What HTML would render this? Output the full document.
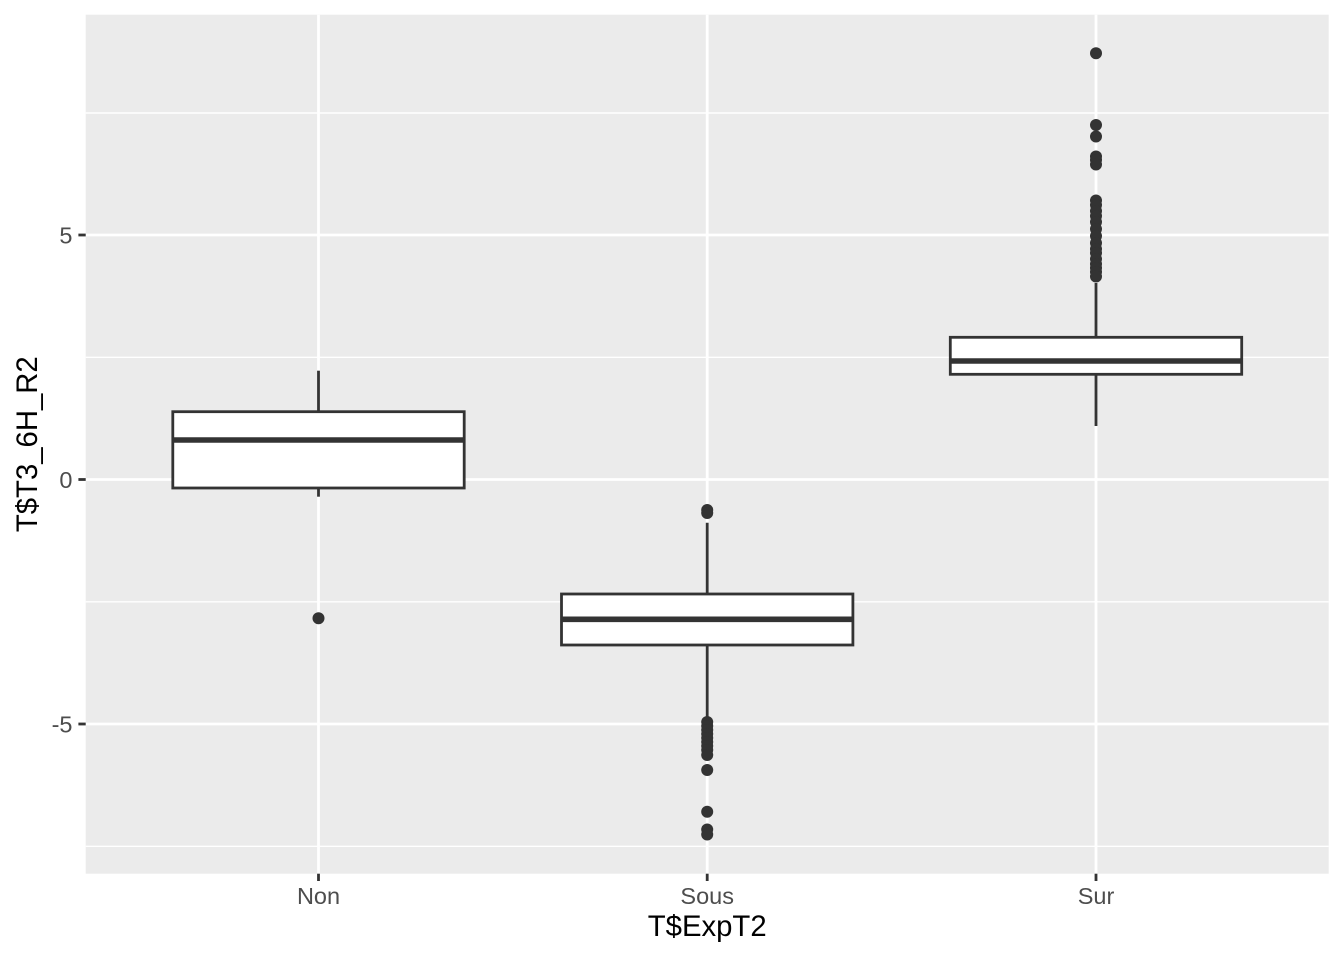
<!DOCTYPE html>
<html>
<head>
<meta charset="utf-8">
<style>
html,body{margin:0;padding:0;background:#fff;}
svg{display:block;}
text{font-family:"Liberation Sans",Arial,sans-serif;}
</style>
</head>
<body>
<svg width="1344" height="960" viewBox="0 0 1344 960" xmlns="http://www.w3.org/2000/svg">
<rect x="0" y="0" width="1344" height="960" fill="#ffffff"/>
<!-- panel -->
<rect x="85.7" y="14.7" width="1243" height="859" fill="#EBEBEB"/>
<!-- minor grid -->
<g stroke="#ffffff" stroke-width="1.4">
<line x1="85.7" x2="1328.7" y1="113" y2="113"/>
<line x1="85.7" x2="1328.7" y1="357.3" y2="357.3"/>
<line x1="85.7" x2="1328.7" y1="601.8" y2="601.8"/>
<line x1="85.7" x2="1328.7" y1="846.3" y2="846.3"/>
</g>
<!-- major grid -->
<g stroke="#ffffff" stroke-width="2.8">
<line x1="85.7" x2="1328.7" y1="235" y2="235"/>
<line x1="85.7" x2="1328.7" y1="479.5" y2="479.5"/>
<line x1="85.7" x2="1328.7" y1="724" y2="724"/>
<line x1="318.5" x2="318.5" y1="14.7" y2="873.7"/>
<line x1="707.2" x2="707.2" y1="14.7" y2="873.7"/>
<line x1="1096" x2="1096" y1="14.7" y2="873.7"/>
</g>

<!-- Non -->
<g stroke="#333333" stroke-width="2.8" fill="#ffffff">
<line x1="318.5" x2="318.5" y1="370.7" y2="411.7"/>
<line x1="318.5" x2="318.5" y1="488" y2="496.7"/>
<rect x="172.8" y="411.7" width="291.4" height="76.3"/>
<line x1="172.8" x2="464.2" y1="440" y2="440" stroke-width="5.6"/>
</g>
<g fill="#333333">
<circle cx="318.5" cy="618.3" r="6"/>
</g>

<!-- Sous -->
<g stroke="#333333" stroke-width="2.8" fill="#ffffff">
<line x1="707.2" x2="707.2" y1="522.7" y2="594"/>
<line x1="707.2" x2="707.2" y1="645" y2="720"/>
<rect x="561.5" y="594" width="291.4" height="51"/>
<line x1="561.5" x2="852.9" y1="619.3" y2="619.3" stroke-width="5.6"/>
</g>
<g fill="#333333">
<circle cx="707.2" cy="510" r="6"/>
<circle cx="707.2" cy="513" r="6"/>
<circle cx="707.2" cy="722" r="6"/>
<circle cx="707.2" cy="726" r="6"/>
<circle cx="707.2" cy="730" r="6"/>
<circle cx="707.2" cy="734" r="6"/>
<circle cx="707.2" cy="738" r="6"/>
<circle cx="707.2" cy="742" r="6"/>
<circle cx="707.2" cy="746" r="6"/>
<circle cx="707.2" cy="750" r="6"/>
<circle cx="707.2" cy="755" r="6"/>
<circle cx="707.2" cy="770" r="6"/>
<circle cx="707.2" cy="811.7" r="6"/>
<circle cx="707.2" cy="829.5" r="6"/>
<circle cx="707.2" cy="834.5" r="6"/>
</g>

<!-- Sur -->
<g stroke="#333333" stroke-width="2.8" fill="#ffffff">
<line x1="1096" x2="1096" y1="283" y2="337.3"/>
<line x1="1096" x2="1096" y1="374.3" y2="426"/>
<rect x="950.3" y="337.3" width="291.4" height="37"/>
<line x1="950.3" x2="1241.7" y1="361" y2="361" stroke-width="5.6"/>
</g>
<g fill="#333333">
<circle cx="1096" cy="53.3" r="6"/>
<circle cx="1096" cy="125" r="6"/>
<circle cx="1096" cy="136.5" r="6"/>
<circle cx="1096" cy="156.5" r="6"/>
<circle cx="1096" cy="160" r="6"/>
<circle cx="1096" cy="164.5" r="6"/>
<circle cx="1096" cy="200.5" r="6"/>
<circle cx="1096" cy="205" r="6"/>
<circle cx="1096" cy="211" r="6"/>
<circle cx="1096" cy="216" r="6"/>
<circle cx="1096" cy="222" r="6"/>
<circle cx="1096" cy="229" r="6"/>
<circle cx="1096" cy="236" r="6"/>
<circle cx="1096" cy="243" r="6"/>
<circle cx="1096" cy="249" r="6"/>
<circle cx="1096" cy="253" r="6"/>
<circle cx="1096" cy="259" r="6"/>
<circle cx="1096" cy="264" r="6"/>
<circle cx="1096" cy="268" r="6"/>
<circle cx="1096" cy="272" r="6"/>
<circle cx="1096" cy="276.5" r="6"/>
</g>

<!-- axis ticks -->
<g stroke="#333333" stroke-width="2.8">
<line x1="78.4" x2="85.7" y1="235" y2="235"/>
<line x1="78.4" x2="85.7" y1="479.5" y2="479.5"/>
<line x1="78.4" x2="85.7" y1="724" y2="724"/>
<line x1="318.5" x2="318.5" y1="873.7" y2="881"/>
<line x1="707.2" x2="707.2" y1="873.7" y2="881"/>
<line x1="1096" x2="1096" y1="873.7" y2="881"/>
</g>
<!-- tick labels -->
<g fill="#4D4D4D" font-size="23.5">
<text x="72.5" y="243.5" text-anchor="end">5</text>
<text x="72.5" y="488" text-anchor="end">0</text>
<text x="72.5" y="732.5" text-anchor="end">-5</text>
<text x="318.5" y="904" text-anchor="middle">Non</text>
<text x="707.2" y="904" text-anchor="middle">Sous</text>
<text x="1096" y="904" text-anchor="middle">Sur</text>
</g>
<!-- axis titles -->
<g fill="#000000" font-size="29.3">
<text x="707.2" y="936" text-anchor="middle">T$ExpT2</text>
<text transform="translate(37,444.2) rotate(-90)" text-anchor="middle">T$T3_6H_R2</text>
</g>
</svg>
</body>
</html>
